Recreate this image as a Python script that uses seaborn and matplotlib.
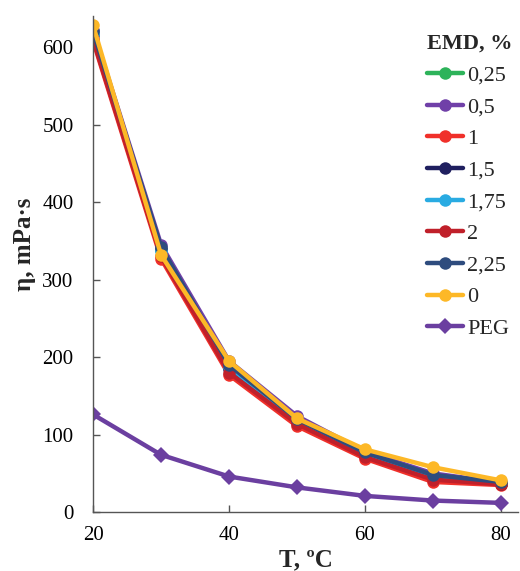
import numpy as np
import pandas as pd
import matplotlib
matplotlib.use("Agg")
import matplotlib.pyplot as plt
import seaborn as sns

T = [20, 30, 40, 50, 60, 70, 80]
series_names = ["0,25", "0,5", "1", "1,5", "1,75", "2", "2,25", "0", "PEG"]
emd_025 = [618, 338, 188, 118, 75, 46, 37]
emd_05 = [622, 345, 195, 124, 78, 50, 38]
emd_1 = [608, 327, 177, 111, 69, 39, 35]
emd_15 = [615, 340, 185, 117, 74, 45, 37]
emd_175 = [617, 337, 187, 119, 76, 47, 38]
emd_2 = [610, 330, 180, 114, 71, 42, 36]
emd_225 = [620, 342, 190, 120, 77, 48, 39]
emd_0 = [628, 332, 195, 121, 81, 58, 41]
peg = [126, 74, 46, 32, 21, 15, 12]
all_values = [emd_025, emd_05, emd_1, emd_15, emd_175, emd_2, emd_225, emd_0, peg]

colors = ["#2DB35A", "#7040A8", "#F0302A", "#1F1F5F", "#29ABE2",
          "#C0202A", "#2E4C7E", "#FDB827", "#6B3FA0"]

sns.set_theme(style="white")
plt.rcParams['font.family'] = ['Liberation Serif', 'DejaVu Serif']

fig = plt.figure(figsize=(5.2, 5.71), dpi=100)
ax = fig.add_axes([0.179, 0.103, 0.817, 0.869])

for name, vals, c in zip(series_names, all_values, colors):
    df = pd.DataFrame({"T": T, "v": vals})
    marker = "D" if name == "PEG" else "o"
    ms = 8 if name == "PEG" else 9
    sns.lineplot(data=df, x="T", y="v", ax=ax, color=c, marker=marker,
                 markersize=ms, markeredgewidth=0, linewidth=3.2, label=name)

ax.set_xlim(20, 82.5)
ax.set_ylim(0, 640)
ax.set_xticks([20, 40, 60, 80])
ax.set_yticks([0, 100, 200, 300, 400, 500, 600])
ax.tick_params(direction="in", length=5, width=1, colors="#555555",
               labelcolor="black", labelsize=15, bottom=True, left=True)
ax.tick_params(axis="x", pad=10)
ax.tick_params(axis="y", pad=14)
for s in ["top", "right"]:
    ax.spines[s].set_visible(False)
for s in ["left", "bottom"]:
    ax.spines[s].set_color("#555555")
    ax.spines[s].set_linewidth(1)

ax.set_xlabel("T, ºC", fontsize=18, fontweight="bold", labelpad=2)
ax.set_ylabel("η, mPa·s", fontsize=18, fontweight="bold", labelpad=0)
ax.yaxis.set_label_coords(-0.135, 0.54)

leg = ax.legend(title="EMD, %", loc="upper right", bbox_to_anchor=(1.025, 0.995),
                frameon=False, fontsize=16, handlelength=1.6,
                labelspacing=0.5, handletextpad=0.2, borderaxespad=0.3)
leg.get_title().set_fontweight("bold")
leg.get_title().set_fontsize(16)
leg._legend_box.align = "left"

fig.savefig("out.png", dpi=100)
